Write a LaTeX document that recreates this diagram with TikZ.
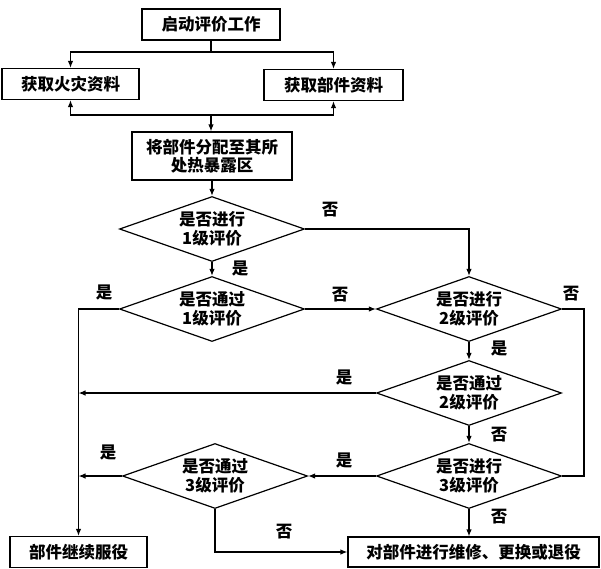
\documentclass[tikz,border=0pt]{standalone}
\usepackage{fontspec}
\setmainfont{Noto Sans CJK SC}
\usetikzlibrary{shapes.geometric,arrows.meta}

\begin{document}
\begin{tikzpicture}[x=1pt,y=-1pt,line width=1.2pt,
	font=\fontsize{16.5}{18.5}\selectfont\bfseries,
	box/.style={draw,inner sep=0pt,minimum height=31pt,align=center},
	choice/.style={draw,diamond,aspect=2.8,inner sep=0pt,minimum width=185pt,minimum height=65pt,align=center},
	>={Latex[length=7pt,width=5.5pt]}]
	\useasboundingbox (0,0) rectangle (601,568);
	% boxes
	\node[box,minimum width=138pt] (start) at (211,24.5) {启动评价工作};
	\node[box,minimum width=137pt] (fire) at (70.5,84) {获取火灾资料};
	\node[box,minimum width=139pt] (part) at (333.5,85) {获取部件资料};
	\node[box,minimum width=160pt,minimum height=48pt] (assign) at (212,156) {将部件分配至其所\\处热暴露区};
	\node[box,minimum width=137pt] (keep) at (78.5,552) {部件继续服役};
	\node[box,minimum width=251pt,minimum height=30pt] (repair) at (473.5,552) {对部件进行维修、更换或退役};
	% decisions
	\node[choice] (d1) at (212,229) {是否进行\\1级评价};
	\node[choice] (d2) at (212,309) {是否通过\\1级评价};
	\node[choice] (d3) at (469,309) {是否进行\\2级评价};
	\node[choice] (d4) at (469,393) {是否通过\\2级评价};
	\node[choice] (d5) at (469,476) {是否进行\\3级评价};
	\node[choice] (d6) at (215,476) {是否通过\\3级评价};
	% top part
	\coordinate (split) at (211,52);
	\coordinate (join) at (211,115);
	\draw (start) -- (split);
	\draw[->] (split) -| (fire.north);
	\draw[->] (split) -| (part.north);
	\draw[->] (join) -| (fire.south);
	\draw[->] (join) -| (part.south);
	\draw[->] (join) -- (join |- assign.north);
	\draw[->] (assign.south) -- (assign.south |- d1.north);
	% flow
	\coordinate (rside) at (584,309);
	\draw[->] (d1.south) -- (d2.north);
	\draw[->] (d1.east) -| (d3.north);
	\draw[->] (d2.east) -- (d3.west);
	\draw[->] (d2.west) -| (keep.north);
	\draw[->] (d3.south) -- (d4.north);
	\draw (d3.east) -- (rside) |- (d5.east);
	\draw[->] (d4.west) -- (d4.west -| keep.north);
	\draw[->] (d4.south) -- (d5.north);
	\draw[->] (d5.west) -- (d6.east);
	\draw[->] (d6.west) -- (d6.west -| keep.north);
	\draw[->] (d6.south) |- (repair.west);
	\draw[->] (d5.south) -- (d5.south |- repair.north);
	% labels
	\node (no1) at (330,210) {否};
	\node (yes1) at (240,268) {是};
	\node (no2) at (340,295) {否};
	\node (yes2) at (104,292) {是};
	\node (no3) at (571,294) {否};
	\node (yes3) at (499,348) {是};
	\node (yes4) at (344,377) {是};
	\node (no4) at (499,435) {否};
	\node (yes5) at (344,460) {是};
	\node (yes6) at (108,452) {是};
	\node (no5) at (284,532) {否};
	\node (no6) at (499,517) {否};
\end{tikzpicture}
\end{document}
